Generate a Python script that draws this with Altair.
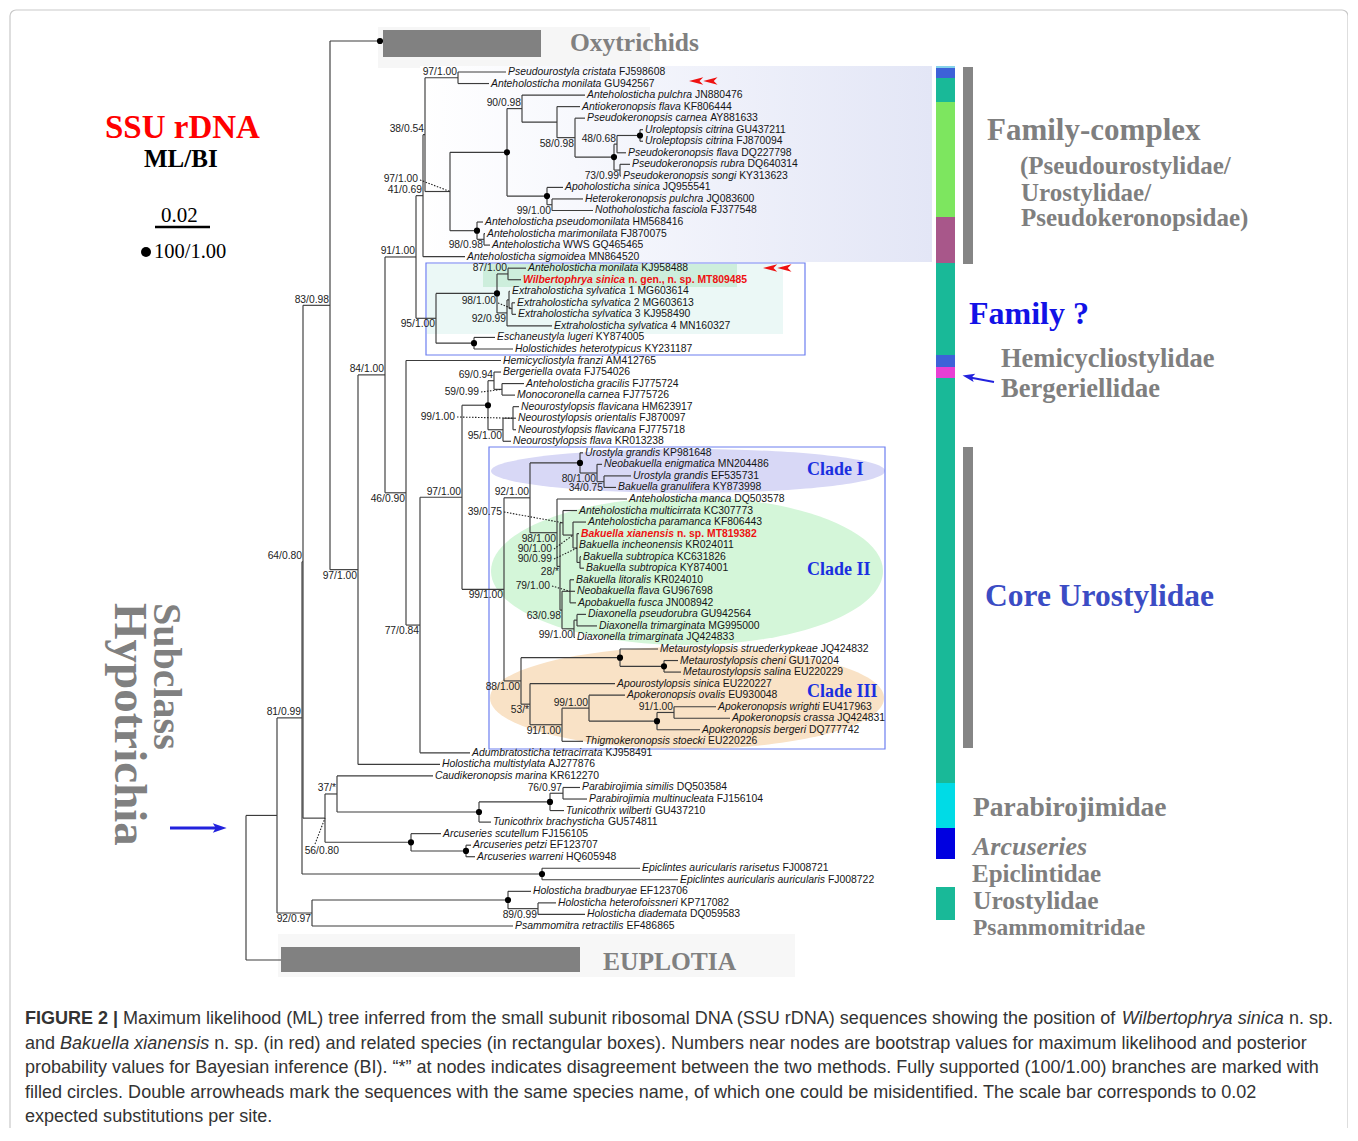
import altair as alt
import pandas as pd

# ------------------------------------------------------------------ data
LEAF_NAME = [
    "Pseudourostyla cristata", "Anteholosticha monilata", "Anteholosticha pulchra",
    "Antiokeronopsis flava", "Pseudokeronopsis carnea", "Uroleptopsis citrina", "Uroleptopsis citrina",
    "Pseudokeronopsis flava", "Pseudokeronopsis rubra", "Pseudokeronopsis songi", "Apoholosticha sinica",
    "Heterokeronopsis pulchra", "Nothoholosticha fasciola", "Anteholosticha pseudomonilata",
    "Anteholosticha marimonilata", "Anteholosticha", "Anteholosticha sigmoidea",
    "Anteholosticha monilata", "Wilbertophrya sinica", "Extraholosticha sylvatica",
    "Extraholosticha sylvatica", "Extraholosticha sylvatica", "Extraholosticha sylvatica",
    "Eschaneustyla lugeri", "Holostichides heterotypicus", "Hemicycliostyla franzi", "Bergeriella ovata",
    "Anteholosticha gracilis", "Monocoronella carnea", "Neourostylopsis flavicana",
    "Neourostylopsis orientalis", "Neourostylopsis flavicana", "Neourostylopsis flava",
    "Urostyla grandis", "Neobakuella enigmatica", "Urostyla grandis", "Bakuella granulifera",
    "Anteholosticha manca", "Anteholosticha multicirrata", "Anteholosticha paramanca",
    "Bakuella xianensis", "Bakuella incheonensis", "Bakuella subtropica", "Bakuella subtropica",
    "Bakuella litoralis", "Neobakuella flava", "Apobakuella fusca", "Diaxonella pseudorubra",
    "Diaxonella trimarginata", "Diaxonella trimarginata", "Metaurostylopsis struederkypkeae",
    "Metaurostylopsis cheni", "Metaurostylopsis salina", "Apourostylopsis sinica", "Apokeronopsis ovalis",
    "Apokeronopsis wrighti", "Apokeronopsis crassa", "Apokeronopsis bergeri", "Thigmokeronopsis stoecki",
    "Adumbratosticha tetracirrata", "Holosticha multistylata", "Caudikeronopsis marina",
    "Parabirojimia similis", "Parabirojimia multinucleata", "Tunicothrix wilberti",
    "Tunicothrix brachysticha", "Arcuseries scutellum", "Arcuseries petzi", "Arcuseries warreni",
    "Epiclintes auricularis rarisetus", "Epiclintes auricularis auricularis", "Holosticha bradburyae",
    "Holosticha heterofoissneri", "Holosticha diademata", "Psammomitra retractilis"]
LEAF_ACC = [
    "FJ598608", "GU942567", "JN880476", "KF806444", "AY881633", "GU437211", "FJ870094", "DQ227798",
    "DQ640314", "KY313623", "JQ955541", "JQ083600", "FJ377548", "HM568416", "FJ870075", "WWS GQ465465",
    "MN864520", "KJ958488", "n. gen., n. sp. MT809485", "1 MG603614", "2 MG603613", "3 KJ958490",
    "4 MN160327", "KY874005", "KY231187", "AM412765", "FJ754026", "FJ775724", "FJ775726", "HM623917",
    "FJ870097", "FJ775718", "KR013238", "KP981648", "MN204486", "EF535731", "KY873998", "DQ503578",
    "KC307773", "KF806443", "n. sp. MT819382", "KR024011", "KC631826", "KY874001", "KR024010",
    "GU967698", "JN008942", "GU942564", "MG995000", "JQ424833", "JQ424832", "GU170204", "EU220229",
    "EU220227", "EU930048", "EU417963", "JQ424831", "DQ777742", "EU220226", "KJ958491", "AJ277876",
    "KR612270", "DQ503584", "FJ156104", "GU437210", "GU574811", "FJ156105", "EF123707", "HQ605948",
    "FJ008721", "FJ008722", "EF123706", "KP717082", "DQ059583", "EF486865"]
# x where each terminal branch ends
LEAF_TIP = [506, 489, 585, 580, 585, 643, 643, 626, 630, 621, 563, 583, 593, 483, 485, 490, 465,
            526, 521, 510, 515, 516, 552, 495, 513, 501, 501, 524, 515, 519, 516, 516, 511,
            583, 602, 631, 616, 627, 577, 586, 579, 577, 581, 584, 574, 575, 576, 586, 597, 575,
            658, 678, 681, 615, 625, 716, 730, 700, 583, 470, 440, 433, 580, 587, 564, 491, 441,
            471, 475, 640, 678, 531, 556, 585, 513]
RED_LEAVES = [18, 40]
ROW0, ROW_STEP = 72, 11.54

# collapsed outgroups
COLLAPSED_ID = ["OXY", "EUP"]
COLLAPSED_LABEL = ["Oxytrichids", "EUPLOTIA"]
COLLAPSED_Y = [41, 960]
COLLAPSED_TIP = [381, 281]
COLLAPSED_BAR = [(383, 541, 30, 57), (281, 580, 947, 972)]
COLLAPSED_TEXT_X = [570, 603]

# internal nodes
NODE_ID = ["root", "n_in", "n81", "n64", "n83", "n97b", "n84", "n91", "n41", "n38", "n97a", "nX",
           "d507", "n90", "n557", "n575", "d613", "n48", "d638", "n73", "d546", "n99a", "d476", "n98a",
           "n95", "d495", "n87", "nE", "nE2", "n98b", "d473", "n46", "n77", "n97c", "d486", "n69",
           "n59", "n95b", "n99c", "n99b", "n92c", "d580", "n80", "n34", "n98c", "n28", "n39", "n90a",
           "n90b", "nsub", "n63", "n79", "n99d", "ndp", "n88", "d618", "d663", "n53", "n91c", "n99e",
           "d656", "n91d", "n56", "n37", "d478", "d548", "n76", "d410", "d466", "nEpi", "n92",
           "d508h", "n89"]
NODE_X = [246, 277, 302, 303, 330, 358, 385, 416, 423, 425, 458, 450,
          507, 522, 557, 575, 614, 617, 640, 620, 547, 552, 477, 484,
          436, 497, 508, 507, 509, 512, 474, 406, 420, 462, 488, 494,
          502, 503, 513, 504, 530, 580, 597, 604, 557, 560, 563, 573,
          577, 580, 562, 570, 574, 577, 521, 620, 664, 530, 562, 589,
          657, 674, 325, 337, 479, 550, 563, 411, 466, 542, 312,
          508, 538]
NODE_KIDS = ["n_in,EUP", "n81,n92", "n64,nEpi", "n83,n56", "OXY,n97b", "n84,L60", "n91,n46", "n41,n95",
             "n38,L16", "n97a,nX", "L0,L1", "d507,d476", "n90,d546", "L2,n557", "L3,n575", "L4,d613",
             "n48,n73", "d638,L7", "L5,L6", "L8,L9", "L10,n99a", "L11,L12", "L13,n98a", "L14,L15",
             "d495,d473", "n87,nE", "L17,L18", "nE2,L22", "L19,n98b", "L20,L21", "L23,L24", "L25,n77",
             "n97c,L59", "d486,n99b", "n69,n95b", "L26,n59", "L27,L28", "n99c,L32", "L29,L30,L31",
             "n92c,n88", "d580,n98c", "L33,n80", "L34,n34", "L35,L36", "L37,n28", "n39,n63", "L38,n90a",
             "L39,n90b", "L40,L41,nsub", "L42,L43", "n79,n99d", "L44,L45,L46", "ndp,L49", "L47,L48",
             "d618,n53", "L50,d663", "L51,L52", "L53,n91c", "n99e,L58", "L54,d656", "n91d,L57",
             "L55,L56", "n37,d410", "L61,d478", "d548,L65", "n76,L64", "L62,L63", "L66,d466", "L67,L68",
             "L69,L70", "d508h,L74", "L71,n89", "L72,L73"]
NODE_SUPPORT = ["", "", "81/0.99", "64/0.80", "83/0.98", "97/1.00", "84/1.00", "91/1.00", "41/0.69",
                "38/0.54", "97/1.00", "97/1.00", "", "90/0.98", "", "58/0.98", "", "48/0.68", "",
                "73/0.99", "", "99/1.00", "", "98/0.98", "95/1.00", "", "87/1.00", "92/0.99", "",
                "98/1.00", "", "46/0.90", "77/0.84", "97/1.00", "", "69/0.94", "59/0.99", "95/1.00",
                "99/1.00", "99/1.00", "92/1.00", "", "80/1.00", "34/0.75", "98/1.00", "28/*", "39/0.75",
                "90/1.00", "90/0.99", "", "63/0.98", "79/1.00", "99/1.00", "", "88/1.00", "", "",
                "53/*", "91/1.00", "99/1.00", "", "91/1.00", "56/0.80", "37/*", "", "", "76/0.97", "",
                "", "", "92/0.97", "", "89/0.99"]
NODE_LABEL_POS = ["", "", "a", "a", "a", "b", "a", "a", "a", "a", "a", "d", "", "a", "", "b", "", "a", "",
                  "b", "", "b", "", "b", "b", "", "a", "b", "", "d", "", "b", "b", "a", "", "a", "d", "b",
                  "d", "b", "a", "", "b", "b", "b", "b", "d", "d", "d", "", "b", "d", "b", "", "b", "", "",
                  "b", "b", "a", "", "a", "d", "a", "", "", "a", "", "", "", "b", "", "b"]
FULL_SUPPORT = ["d507", "d613", "d638", "d546", "d476", "d495", "d473", "d486", "d580", "d618", "d663",
                "d656", "d478", "d548", "d410", "d466", "nEpi", "d508h"]
# supports drawn with a dotted leader: node -> (text right x, text y, leader start x, leader start y)
DOTTED_LABEL = {"nX": (418, 179, 420, 180), "n98b": (496, 301, 498, 303), "n59": (479, 392, 481, 392),
                "n99c": (455, 417, 457, 417), "n39": (502, 512, 504, 512), "n90a": (552, 549, 554, 549),
                "n90b": (552, 559, 554, 559), "n79": (550, 586, 552, 586), "n56": (339, 851, 315, 844)}

# side colour strip (y0, y1, colour)
STRIP = [(66, 68, "#86d3ea"), (68, 78, "#3d62d8"), (78, 102, "#19b998"), (102, 217, "#7de65f"),
         (217, 263, "#a8578a"), (263, 355, "#19b998"), (355, 367, "#3d62d8"), (367, 378, "#e83fd4"),
         (378, 783, "#19b998"), (783, 828, "#00dbe6"), (828, 859, "#0000e0"), (887, 920, "#19b998")]
GRAY_BARS = [(67, 264), (447, 748)]

RIGHT_TEXT = [  # text, x, y, size, colour, style
    ("Family-complex", 987, 131, 31, "#7f7f7f", "normal"),
    ("(Pseudourostylidae/", 1020, 166, 25, "#7f7f7f", "normal"),
    ("Urostylidae/", 1021, 193, 25, "#7f7f7f", "normal"),
    ("Pseudokeronopsidae)", 1021, 218, 25, "#7f7f7f", "normal"),
    ("Family ?", 969, 314, 32, "#1212e6", "normal"),
    ("Hemicycliostylidae", 1001, 358.5, 26.5, "#7f7f7f", "normal"),
    ("Bergeriellidae", 1001, 388.5, 26.5, "#7f7f7f", "normal"),
    ("Core Urostylidae", 985, 597, 31.5, "#3b4cc4", "normal"),
    ("Parabirojimidae", 973, 808, 27.5, "#7f7f7f", "normal"),
    ("Arcuseries", 973, 847, 26, "#7f7f7f", "italic"),
    ("Epiclintidae", 972, 874, 25, "#7f7f7f", "normal"),
    ("Urostylidae", 973, 901, 25.5, "#7f7f7f", "normal"),
    ("Psammomitridae", 973, 928, 23.5, "#7f7f7f", "normal"),
    ("SSU rDNA", 105, 128, 33, "#ff0000", "normal"),
    ("ML/BI", 144, 159, 25, "#000000", "normal"),
    ("Clade I", 807, 470, 18, "#1a2fe0", "normal"),
    ("Clade II", 807, 570, 18, "#1a2fe0", "normal"),
    ("Clade III", 807, 692, 18, "#1a2fe0", "normal"),
]
SIDE_TITLE = [("Subclass", 166, 603, 40), ("Hypotrichia", 129, 603, 47)]
CLADE_ELLIPSE = [(688, 471, 197, 22, "#d8d8f6"), (687, 571, 196, 74, "#d4f6d9"),
                 (687, 698, 197, 51, "#f9e2c6")]

CAP_X = 25
CAP_Y = [1019, 1043.5, 1068, 1092.5, 1117]
CAP_LINES = [
    [("FIGURE 2 |", "b"), (" Maximum likelihood (ML) tree inferred from the small subunit ribosomal DNA "
                           "(SSU rDNA) sequences showing the position of ", "r"),
     ("Wilbertophrya sinica", "i"), (" n. sp.", "r")],
    [("and ", "r"), ("Bakuella xianensis", "i"),
     (" n. sp. (in red) and related species (in rectangular boxes). Numbers near nodes are bootstrap "
      "values for maximum likelihood and posterior", "r")],
    [("probability values for Bayesian inference (BI). “*” at nodes indicates disagreement between the "
      "two methods. Fully supported (100/1.00) branches are marked with", "r")],
    [("filled circles. Double arrowheads mark the sequences with the same species name, of which one "
      "could be misidentified. The scale bar corresponds to 0.02", "r")],
    [("expected substitutions per site.", "r")],
]

# ------------------------------------------------------------------ helpers
W, H = 1340, 1120
X0, Y0 = 8, 8
SX = alt.Scale(domain=[X0, X0 + W], nice=False, zero=False)
SY = alt.Scale(domain=[Y0, Y0 + H], nice=False, zero=False, reverse=True)
SANS, SERIF = "Liberation Sans", "Liberation Serif"

W_R = dict(zip("abcdefghijklmnopqrstuvwxyz",
               [556, 556, 500, 556, 556, 278, 556, 556, 222, 222, 500, 222, 833, 556, 556, 556, 556, 333,
                500, 278, 556, 500, 722, 500, 500, 500]))
W_R.update(zip("ABCDEFGHIJKLMNOPQRSTUVWXYZ",
               [667, 667, 722, 722, 667, 611, 778, 722, 278, 500, 667, 556, 833, 722, 778, 667, 778, 722,
                667, 611, 722, 667, 944, 667, 667, 611]))
W_B = dict(zip("abcdefghijklmnopqrstuvwxyz",
               [556, 611, 556, 611, 556, 333, 611, 611, 278, 278, 556, 278, 889, 611, 611, 611, 611, 389,
                556, 333, 611, 556, 778, 556, 556, 500]))
W_B.update(zip("ABCDEFGHIJKLMNOPQRSTUVWXYZ",
               [722, 722, 722, 722, 667, 611, 778, 722, 278, 556, 722, 611, 833, 722, 778, 667, 778, 722,
                667, 611, 722, 667, 944, 667, 667, 611]))
for tbl in (W_R, W_B):
    tbl.update({c: 556 for c in "0123456789"})
    tbl.update({" ": 278, ".": 278, ",": 278, "/": 278, "(": 333, ")": 333, "-": 333, "*": 389,
                "?": 556, "|": 270, "“": 333, "”": 333, ":": 278})


def tw(s, fs, bold=False):
    t = W_B if bold else W_R
    return sum(t.get(ch, 556) for ch in s) * fs / 1000.0


def X(f):
    return alt.X(f"{f}:Q", scale=SX, axis=None)


def Y(f):
    return alt.Y(f"{f}:Q", scale=SY, axis=None)


def rects(rows, **mk):
    df = pd.DataFrame(rows, columns=["x", "x2", "y", "y2", "c"])
    return alt.Chart(df).mark_rect(**mk).encode(
        x=X("x"), x2=alt.X2("x2"), y=Y("y"), y2=alt.Y2("y2"), color=alt.Color("c:N", scale=None))


def plain_rect(x0, x1, y0, y1, **mk):
    df = pd.DataFrame({"x": [x0], "x2": [x1], "y": [y0], "y2": [y1]})
    return alt.Chart(df).mark_rect(**mk).encode(x=X("x"), x2=alt.X2("x2"), y=Y("y"), y2=alt.Y2("y2"))


def rules(rows, color, width, dash=None):
    df = pd.DataFrame(rows, columns=["x", "y", "x2", "y2"])
    mk = dict(color=color, strokeWidth=width)
    if dash:
        mk["strokeDash"] = dash
    return alt.Chart(df).mark_rule(**mk).encode(x=X("x"), y=Y("y"), x2=alt.X2("x2"), y2=alt.Y2("y2"))


def pts(rows, shape, size, color, angle=None):
    df = pd.DataFrame(rows, columns=["x", "y"])
    mk = dict(shape=shape, size=size, filled=True, color=color, opacity=1, strokeWidth=0)
    if angle:
        mk["angle"] = angle
    return alt.Chart(df).mark_point(**mk).encode(x=X("x"), y=Y("y"))


def texts(rows, font, weight="normal", style="normal", align="left", baseline="middle", angle=None):
    df = pd.DataFrame(rows, columns=["x", "y", "t", "s", "c"])
    mk = dict(font=font, fontWeight=weight, fontStyle=style, align=align, baseline=baseline)
    if angle:
        mk["angle"] = angle
    return alt.Chart(df).mark_text(**mk).encode(
        x=X("x"), y=Y("y"), text="t:N", size=alt.Size("s:Q", scale=None),
        color=alt.Color("c:N", scale=None))


def ellipse_path(b):
    k = 0.5523
    return (f"M -1 0 C -1 {-k*b:.4f} {-k:.4f} {-b:.4f} 0 {-b:.4f} "
            f"C {k:.4f} {-b:.4f} 1 {-k*b:.4f} 1 0 "
            f"C 1 {k*b:.4f} {k:.4f} {b:.4f} 0 {b:.4f} "
            f"C {-k:.4f} {b:.4f} -1 {k*b:.4f} -1 0 Z")


# ------------------------------------------------------------------ tree geometry
leaf_y = {f"L{i}": ROW0 + ROW_STEP * i for i in range(len(LEAF_NAME))}
tip_x = {f"L{i}": LEAF_TIP[i] for i in range(len(LEAF_TIP))}
for cid, cy, ct in zip(COLLAPSED_ID, COLLAPSED_Y, COLLAPSED_TIP):
    leaf_y[cid] = cy
    tip_x[cid] = ct
node_x = dict(zip(NODE_ID, NODE_X))
node_kids = {n: k.split(",") for n, k in zip(NODE_ID, NODE_KIDS)}
ycache = {}


def gy(n):
    if n in leaf_y:
        return leaf_y[n]
    if n not in ycache:
        ks = node_kids[n]
        ycache[n] = (gy(ks[0]) + gy(ks[-1])) / 2.0
    return ycache[n]


def gx(n):
    return node_x[n] if n in node_x else tip_x[n]


branch = []
for n in NODE_ID:
    ks = node_kids[n]
    xn = node_x[n]
    branch.append((xn, gy(ks[0]), xn, gy(ks[-1])))
    for k in ks:
        branch.append((xn, gy(k), gx(k), gy(k)))

sup_rows, dotted = [], []
for n, s, p in zip(NODE_ID, NODE_SUPPORT, NODE_LABEL_POS):
    if not s:
        continue
    xn, yn = node_x[n], gy(n)
    if p == "a":
        sup_rows.append((xn - 1, yn - 5.5, s, 10.3, "#222222"))
    elif p == "b":
        sup_rows.append((xn - 1, yn + 6, s, 10.3, "#222222"))
    else:
        tx, ty, lx, ly = DOTTED_LABEL[n]
        sup_rows.append((tx, ty, s, 10.3, "#222222"))
        dotted.append((lx, ly, xn, yn))

dot_rows = [(node_x[n], gy(n)) for n in FULL_SUPPORT] + [(COLLAPSED_TIP[0] - 1, COLLAPSED_Y[0])]

FS_LEAF = 10.4
it_rows, acc_rows, red_it, red_acc = [], [], [], []
for i, (nm, acc, tx) in enumerate(zip(LEAF_NAME, LEAF_ACC, LEAF_TIP)):
    y = leaf_y[f"L{i}"]
    x = tx + 2
    bold = i in RED_LEAVES
    xa = x + tw(nm, FS_LEAF, bold) + tw(" ", FS_LEAF, bold)
    if bold:
        red_it.append((x, y, nm, FS_LEAF, "#ee1111"))
        red_acc.append((xa, y, acc, FS_LEAF, "#ee1111"))
    else:
        it_rows.append((x, y, nm, FS_LEAF, "#151515"))
        acc_rows.append((xa, y, acc, FS_LEAF, "#151515"))

# ------------------------------------------------------------------ caption layout
line1_units = sum(tw(t, 1000, st == "b") for t, st in CAP_LINES[0])
FS_CAP = (1333 - CAP_X) / (line1_units / 1000.0)
cap = {"b": [], "r": [], "i": []}
for li, segs in enumerate(CAP_LINES):
    x = CAP_X
    for t, st in segs:
        lead = len(t) - len(t.lstrip(" "))
        trail = len(t) - len(t.rstrip(" "))
        core = t.strip(" ")
        x += tw(" " * lead, FS_CAP)
        cap[st].append((x, CAP_Y[li], core, FS_CAP, "#333333"))
        x += tw(core, FS_CAP, st == "b") + tw(" " * trail, FS_CAP)

# ------------------------------------------------------------------ layers
layers = []
# frame
layers.append(plain_rect(10, 1348, 10, 1150, filled=False, color="#c9c9c9", strokeWidth=1.2,
                         cornerRadius=6))
# faint backgrounds behind collapsed outgroups
layers.append(rects([(378, 650, 27, 68, "#f6f6f6"), (278, 795, 934, 977, "#f7f7f7")]))
# family-complex shading
layers.append(plain_rect(420, 932, 66, 262, color={
    "gradient": "linear", "x1": 0, "y1": 0, "x2": 1, "y2": 0,
    "stops": [{"offset": 0, "color": "#ffffff"}, {"offset": 0.3, "color": "#f7f8fd"},
              {"offset": 1, "color": "#e3e6f6"}]}))
# Family ? box fill and highlight
layers.append(rects([(427, 783, 264, 334, "#ebf8f6"), (483, 737, 264, 287, "#cdeedc")]))
# clade ellipses
for cx, cy, rx, ry, col in CLADE_ELLIPSE:
    layers.append(pts([(cx, cy)], ellipse_path(ry / rx), (2 * rx) ** 2, col))
# boxes
layers.append(plain_rect(426, 805, 263, 355, filled=False, color="#6d7ff0", strokeWidth=1.2))
layers.append(plain_rect(489, 885, 447, 749, filled=False, color="#6d7ff0", strokeWidth=1.2))
# collapsed outgroup bars
layers.append(rects([(b[0], b[1], b[2], b[3], "#818181") for b in COLLAPSED_BAR]))
# tree
layers.append(rules(branch, "#3c3c3c", 1.15))
layers.append(rules(dotted, "#222222", 1.1, dash=[1.5, 1.5]))
layers.append(pts(dot_rows, "circle", 38, "#000000"))
# labels of tree
layers.append(texts(it_rows, SANS, style="italic"))
layers.append(texts(acc_rows, SANS))
layers.append(texts(red_it, SANS, weight="bold", style="italic"))
layers.append(texts(red_acc, SANS, weight="bold"))
layers.append(texts(sup_rows, SANS, align="right"))
# collapsed outgroup names
layers.append(texts([(tx, cy + 2, lab, 25.5, "#808080") for tx, cy, lab in
                     zip(COLLAPSED_TEXT_X, COLLAPSED_Y, COLLAPSED_LABEL)], SERIF, weight="bold"))
# side strips
layers.append(rects([(936, 955, a, b, c) for a, b, c in STRIP]))
layers.append(rects([(963, 973, a, b, "#858585") for a, b in GRAY_BARS]))
# side / legend texts
bold_rows = [(x, y, t, s, c) for t, x, y, s, c, st in RIGHT_TEXT if st == "normal"]
ital_rows = [(x, y, t, s, c) for t, x, y, s, c, st in RIGHT_TEXT if st == "italic"]
layers.append(texts(bold_rows, SERIF, weight="bold"))
layers.append(texts(ital_rows, SERIF, weight="bold", style="italic"))
layers.append(texts([(161, 216, "0.02", 21, "#000000"), (154, 252, "100/1.00", 20.5, "#000000")], SERIF))
layers.append(rules([(155, 227, 210, 227)], "#000000", 2.6))
layers.append(pts([(146, 252)], "circle", 100, "#000000"))
layers.append(texts([(x, y, t, s, "#808080") for t, x, y, s in SIDE_TITLE],
                    SERIF, weight="bold", angle=90))
# arrows
DOUBLE_HEAD = ("M -1 0 L -0.05 -0.25 L -0.3 0 L -0.05 0.25 Z "
               "M -0.05 0 L 0.9 -0.25 L 0.65 0 L 0.9 0.25 Z")
layers.append(pts([(704, 81), (778, 268)], DOUBLE_HEAD, 900, "#ee1111"))
HEAD_L = "M -1 0 L 0.6 -0.55 L 0.25 0 L 0.6 0.55 Z"
HEAD_R = "M 1 0 L -0.6 -0.55 L -0.25 0 L -0.6 0.55 Z"
layers.append(rules([(170, 828, 216, 828)], "#2222dd", 3))
layers.append(pts([(218, 828)], HEAD_R, 300, "#2222dd"))
layers.append(rules([(994, 382, 970, 377.5)], "#2222dd", 2))
layers.append(pts([(970, 377)], HEAD_L, 230, "#2222dd", angle=11))
# caption
layers.append(texts(cap["b"], SANS, weight="bold"))
layers.append(texts(cap["r"], SANS))
layers.append(texts(cap["i"], SANS, style="italic"))

chart = alt.layer(*layers).properties(
    width=W, height=H, padding=0, autosize=alt.AutoSizeParams(type="none"),
    background="#ffffff").configure_view(stroke=None)

chart.save("out.html", embed_options={"renderer": "svg", "actions": False})
